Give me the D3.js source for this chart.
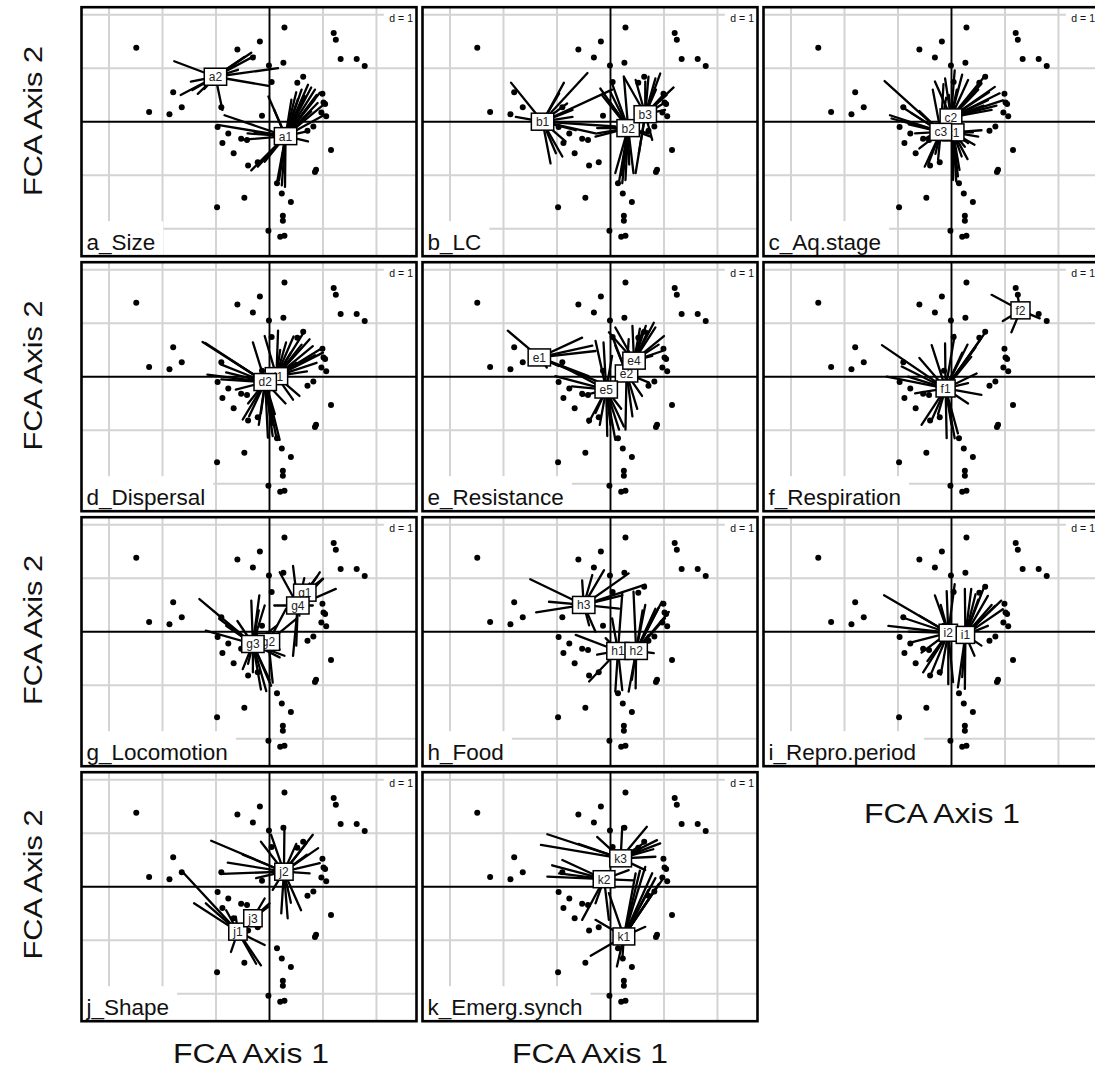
<!DOCTYPE html>
<html><head><meta charset="utf-8">
<script src="https://cdn.jsdelivr.net/npm/d3@7"></script>
<style>
body{margin:0;background:#fff}
svg{display:block;font-family:"Liberation Sans",Arial,Helvetica,sans-serif}
</style>
</head><body><svg id="chart" width="1095" height="1077"></svg>
<script>
// ---------- data ----------
const panelTitles = ["a_Size","b_LC","c_Aq.stage","d_Dispersal","e_Resistance","f_Respiration","g_Locomotion","h_Food","i_Repro.period","j_Shape","k_Emerg.synch"];
const xDomain = [-3.514, 2.748];
const yDomain = [-2.514, 2.140];
const gridX = [-3,-2,-1,1,2];
const gridY = [-2,-1,1,2];
const scaleLegend = "d = 1";
const xAxisTitle = "FCA Axis 1";
const yAxisTitle = "FCA Axis 2";

// species scores (shared by all panels)
const species = [[0.28,1.76],[1.2,1.66],[1.24,1.53],[-2.49,1.38],[-0.18,1.5],[-0.6,1.35],[-0.31,1.2],[0.26,1.1],[-0.01,1.05],[1.33,1.17],[1.63,1.17],[1.78,1.04],[0.04,0.74],[0.52,0.73],[0.63,0.84],[-1.8,0.55],[-2.25,0.18],[-1.87,0.14],[-1.64,0.27],[-0.9,0.27],[-0.14,0.11],[0.99,0.52],[1.04,0.33],[0.97,0.17],[1.06,0.1],[1.01,0.36],[0.82,-0.09],[0.71,-0.17],[-0.97,-0.1],[-0.77,-0.22],[-0.88,-0.4],[-0.53,-0.32],[-0.42,-0.34],[-0.67,-0.59],[1.15,-0.53],[0.87,-0.9],[0.85,-0.94],[-0.4,-0.82],[-0.22,-0.76],[0.14,-1.15],[0.23,-1.34],[0.4,-1.5],[-0.47,-1.42],[-0.98,-1.6],[0.25,-1.76],[0.25,-1.85],[-0.02,-2.04],[0.28,-2.13],[0.2,-2.15]];

// class centroids and star line end points, per trait
const sizeClasses = [
 {label:"a1", c:[0.3,-0.27], ends:[[0.72,0.69],[0.78,0.64],[0.88,0.5],[1.0,0.31],[0.94,0.54],[0.53,0.42],[0.66,0.48],[1.03,0.13],[0.78,0.19],[0.84,0.41],[0.14,-1.14],[0.23,-1.19],[0.29,-1.22],[0.18,-1.09],[-0.34,-0.91],[-0.22,-0.84],[-0.09,-0.75],[-0.97,-0.06],[-0.84,0.12],[-0.53,-0.34],[-0.41,-0.22],[-0.28,-0.19],[-0.02,0.47],[0.09,0.22],[0.72,-0.37],[0.66,-0.19],[0.41,0.41],[0.6,0.6],[0.85,0.6],[0.5,0.55],[0.2,-0.9],[0.9,0.35]]},
 {label:"a2", c:[-1.01,0.84], ends:[[-1.78,1.13],[-0.34,1.29],[-0.28,1.23],[-0.47,1.21],[-0.66,1.06],[0.16,1.0],[-0.02,0.67],[-0.88,0.22],[-1.44,0.59],[-1.66,0.5],[-1.34,0.52],[-1.47,0.75],[-1.22,0.61],[-0.59,0.97]]}
];
const lcClasses = [
 {label:"b1", c:[-1.27,0.0], ends:[[-1.86,0.73],[-1.77,0.09],[-0.87,0.73],[-0.43,0.91],[0.03,0.6],[-1.12,-0.78],[-0.9,-0.65],[-0.84,-0.37],[-0.65,-0.16],[-0.71,0.09],[0.09,-0.09],[-0.28,-0.22],[-0.81,0.34],[-0.71,0.22],[-0.96,0.53],[-1.02,-0.59]]},
 {label:"b2", c:[0.33,-0.12], ends:[[-0.19,0.62],[0.03,0.71],[0.25,0.84],[-0.16,0.5],[0.09,0.22],[0.16,-1.12],[0.22,-1.15],[0.28,-1.09],[0.09,-0.96],[0.43,-0.96],[-0.28,-0.28],[-0.25,-0.12],[-0.25,-0.22],[0.71,-0.22],[0.75,-0.28],[-0.03,0.4],[0.2,-1.0],[0.35,-0.8],[0.0,0.55]]},
 {label:"b3", c:[0.65,0.14], ends:[[0.93,0.9],[1.18,0.64],[0.84,0.81],[0.71,0.84],[0.47,0.78],[0.99,0.34],[1.02,0.22],[0.78,-0.34],[0.47,-0.96],[0.53,-0.59],[0.25,0.84],[0.96,0.47],[0.65,0.75],[0.85,0.6],[1.05,0.5]]}
];
const aqClasses = [
 {label:"c2", c:[-0.01,0.08], ends:[[0.06,0.96],[0.62,0.85],[0.81,0.65],[0.9,0.53],[0.96,0.4],[0.68,0.4],[0.56,0.71],[0.31,0.78],[-0.12,0.81],[-0.31,0.75],[0.75,0.22],[0.43,0.53],[0.2,0.88],[0.84,0.3],[0.5,0.6],[0.7,0.55],[0.35,0.45],[0.1,0.6],[0.6,0.3],[-0.05,0.5]]},
 {label:"c1", c:[0.03,-0.2], ends:[[0.09,-1.12],[0.12,-1.02],[0.03,-1.09],[0.19,-0.65],[0.25,-0.47],[0.56,-0.16],[0.43,-0.43],[0.31,-0.4],[0.06,-0.65],[0.5,-0.28],[0.15,-0.9],[0.08,-0.8],[0.3,-0.7],[0.4,-0.2]]},
 {label:"c3", c:[-0.2,-0.19], ends:[[-1.25,0.76],[-1.15,0.12],[-1.12,0.06],[-0.93,0.28],[-0.93,0.03],[-0.68,-0.22],[-0.56,-0.34],[-0.5,-0.84],[-0.43,-0.78],[-0.25,-0.71],[-0.75,0.16],[-0.43,-0.28],[-0.35,0.6],[-0.15,0.7],[-0.6,0.2],[-0.8,-0.05],[-0.3,-0.6],[-0.6,-0.5],[-0.1,0.45]]}
];
const dispClasses = [
 {label:"d1", c:[0.13,0.01], ends:[[0.16,0.86],[0.66,0.86],[0.81,0.57],[1.0,0.45],[0.88,0.26],[0.5,0.26],[0.56,-0.36],[0.44,-0.43],[0.75,0.7],[0.94,0.51],[-0.09,0.76],[0.31,0.64],[0.45,0.75],[0.6,0.6],[0.85,0.4],[0.2,0.5],[0.7,0.1],[0.4,0.45]]},
 {label:"d2", c:[-0.08,-0.1], ends:[[-1.25,0.65],[-1.2,0.63],[-0.91,0.23],[-1.16,0.04],[-0.31,0.64],[-0.5,-0.8],[-0.38,-0.74],[-0.16,-0.68],[0.06,-1.11],[0.13,-1.14],[0.19,-1.18],[-0.03,-1.14],[-0.63,-0.24],[-0.56,-0.05],[-0.81,0.08],[0.3,-0.5],[-0.7,0.3],[-0.9,-0.05],[-0.2,-0.9],[0.05,-0.9],[-0.4,-0.5],[0.1,-0.7]]}
];
const resClasses = [
 {label:"e2", c:[0.3,0.06], ends:[[0.28,-0.99],[0.41,-0.74],[0.59,-0.36],[0.72,-0.11],[0.03,0.76],[0.34,0.7],[0.09,0.58],[0.5,-0.6]]},
 {label:"e1", c:[-1.33,0.36], ends:[[-1.92,0.86],[-0.53,0.73],[-0.34,0.58],[-0.28,0.48],[-0.97,0.2],[-1.19,0.17],[-0.19,-0.11],[-0.41,0.01]]},
 {label:"e4", c:[0.44,0.3], ends:[[0.81,1.01],[1.0,0.76],[0.97,0.48],[0.84,0.92],[0.66,0.95],[0.09,0.92],[-0.03,0.83],[0.78,0.39],[0.41,0.95],[0.59,0.83],[0.7,0.85],[0.9,0.6],[0.55,0.9]]},
 {label:"e5", c:[-0.08,-0.24], ends:[[-0.91,0.2],[-1.03,0.01],[-0.72,-0.18],[-0.28,0.67],[-0.13,0.64],[-0.41,-0.86],[-0.28,-0.68],[0.09,-1.18],[0.16,-0.99],[-0.06,-1.11],[0.25,-0.93],[-0.53,-0.36],[0.03,0.39],[0.0,-0.9],[-0.2,-0.9],[0.2,-0.6]]}
];
const respClasses = [
 {label:"f1", c:[-0.11,-0.22], ends:[[-1.3,0.59],[-1.21,0.0],[-0.93,0.19],[-0.37,0.59],[-0.12,0.62],[0.06,0.78],[0.53,0.68],[0.62,0.81],[0.47,0.06],[0.31,-0.12],[0.56,-0.34],[0.31,-0.5],[-0.56,-0.9],[-0.37,-0.81],[-0.09,-1.15],[0.06,-1.15],[0.12,-1.06],[0.37,0.37],[-0.81,0.0],[-0.68,-0.31],[0.3,0.6],[0.45,0.55],[-0.6,0.35],[0.0,-0.9],[-0.25,-0.7],[0.2,0.45]]},
 {label:"f2", c:[1.29,1.24], ends:[[0.75,1.53],[0.96,1.04],[1.12,0.83],[1.65,1.09],[1.24,1.49]]}
];
const locoClasses = [
 {label:"g1", c:[0.66,0.73], ends:[[0.88,1.02],[1.0,0.99]]},
 {label:"g2", c:[-0.02,-0.19], ends:[[0.31,0.43],[0.5,0.24],[0.19,-0.33],[0.06,-0.95]]},
 {label:"g3", c:[-0.31,-0.23], ends:[[-1.31,0.61],[-1.19,0.02],[-0.94,0.24],[-0.34,0.58],[-0.19,0.68],[-0.09,0.49],[-0.31,-0.76],[-0.16,-1.08],[-0.06,-1.11],[0.03,-1.01],[0.19,-0.48],[0.28,-0.45],[0.13,0.11],[-0.81,0.11],[-0.5,-0.7],[-0.2,0.4],[-0.6,0.2],[0.0,-0.9],[-0.4,-0.6]]},
 {label:"g4", c:[0.53,0.49], ends:[[0.44,1.23],[0.19,1.11],[0.94,1.11],[1.0,0.99],[1.24,0.8],[0.09,0.49],[0.44,-0.45],[0.5,-0.26],[0.56,0.3],[0.81,0.49],[0.75,0.9],[0.65,1.0]]}
];
const foodClasses = [
 {label:"h3", c:[-0.5,0.5], ends:[[-1.5,0.98],[-1.39,0.36],[-1.15,0.56],[-0.53,0.96],[-0.12,1.15],[0.34,1.09],[0.65,0.88],[0.22,0.68],[-0.4,0.12],[-0.28,0.0],[0.16,0.43],[-0.34,1.06]]},
 {label:"h1", c:[0.14,-0.36], ends:[[-0.65,-0.06],[-0.4,-0.93],[-0.25,-0.43],[0.09,-1.12],[0.22,-1.09],[0.03,0.25],[0.22,0.71],[-0.09,-0.12]]},
 {label:"h2", c:[0.48,-0.36], ends:[[1.09,0.37],[0.96,0.56],[0.84,0.43],[0.65,0.5],[0.71,-0.06],[0.81,-0.4],[0.34,-1.12],[0.43,0.75],[0.47,-1.06],[1.02,0.25],[0.9,0.45],[0.8,0.3],[0.6,0.4],[0.4,-0.9]]}
];
const reproClasses = [
 {label:"i2", c:[-0.06,-0.02], ends:[[-1.26,0.68],[-1.18,0.11],[-0.93,0.27],[-0.31,0.68],[-0.09,0.76],[0.06,0.89],[-0.53,-0.76],[-0.37,-0.76],[-0.06,-0.98],[0.03,-0.94],[-0.75,-0.2],[-0.56,-0.39],[-0.6,0.3],[-0.2,0.5],[-0.8,0.0],[-0.2,-0.8],[-0.45,-0.55]]},
 {label:"i1", c:[0.26,-0.06], ends:[[0.62,0.86],[0.93,0.58],[0.96,0.42],[0.68,0.67],[0.37,0.8],[0.25,0.8],[0.56,-0.26],[0.43,-0.45],[0.25,-1.07],[0.12,-1.04],[0.68,0.11],[0.81,0.48],[0.5,0.6],[0.75,0.5],[0.2,-0.85],[0.6,0.3],[0.45,0.7]]}
];
const shapeClasses = [
 {label:"j2", c:[0.27,0.28], ends:[[-1.09,0.86],[-0.78,0.45],[-0.88,0.24],[-0.16,0.84],[0.03,0.97],[0.28,1.13],[0.81,0.97],[0.91,0.72],[0.75,0.25],[0.94,0.44],[0.59,-0.44],[0.34,-0.59],[0.22,-0.5],[-0.25,0.16],[0.06,-0.06],[0.69,0.81],[0.7,0.6],[0.5,0.8],[-0.5,0.6],[0.4,-0.3]]},
 {label:"j1", c:[-0.59,-0.84], ends:[[-1.61,0.26],[-1.41,-0.31],[-1.19,-0.31],[-0.81,-0.44],[-0.72,-1.22],[-0.16,-1.47],[-0.25,-1.44],[-0.09,-1.09],[-0.63,-0.56]]},
 {label:"j3", c:[-0.31,-0.59], ends:[[0.0,-0.31],[-0.09,-0.22],[-0.03,-0.38]]}
];
const emergClasses = [
 {label:"k3", c:[0.19,0.53], ends:[[-1.18,0.98],[-1.3,0.78],[-0.25,0.93],[0.22,1.12],[0.68,1.12],[0.87,0.87],[0.93,0.81],[0.84,0.56],[0.65,0.31],[0.8,0.7],[0.6,0.8],[-0.6,0.8]]},
 {label:"k2", c:[-0.12,0.14], ends:[[-1.09,0.4],[-1.18,0.19],[-0.96,0.25],[-0.53,-0.62],[-0.28,-0.31],[-0.03,-0.62],[0.34,0.31],[0.43,0.12],[-0.9,0.5]]},
 {label:"k1", c:[0.25,-0.93], ends:[[0.96,0.12],[0.65,0.37],[0.71,-0.06],[0.84,0.16],[-0.37,-1.29],[0.12,-1.49],[0.22,-1.37],[0.65,-0.75],[-0.28,-0.62],[-0.03,-0.12],[0.78,0.25],[0.47,0.25],[0.9,0.05],[0.55,0.3],[0.8,-0.1]]}
];
const panelClasses = [sizeClasses, lcClasses, aqClasses, dispClasses, resClasses, respClasses, locoClasses, foodClasses, reproClasses, shapeClasses, emergClasses];

// ---------- drawing ----------
const svg = d3.select("#chart");
svg.append("rect").attr("width",1095).attr("height",1077).attr("fill","#fff");

const PW = 335, PH = 249;
const x = d3.scaleLinear().domain(xDomain).range([0, PW]);
const y = d3.scaleLinear().domain(yDomain).range([PH, 0]);

panelTitles.forEach((title, i) => {
  const col = i % 3, row = Math.floor(i / 3);
  const g = svg.append("g").attr("transform", `translate(${81.5 + 341*col},${7.2 + 255*row})`);
  g.append("rect").attr("width", PW).attr("height", PH).attr("fill", "#fff");
  // grid
  g.selectAll(".gx").data(gridX).enter().append("line")
    .attr("x1", d => x(d)).attr("x2", d => x(d)).attr("y1", 0).attr("y2", PH)
    .attr("stroke", "#d3d3d3").attr("stroke-width", 2);
  g.selectAll(".gy").data(gridY).enter().append("line")
    .attr("y1", d => y(d)).attr("y2", d => y(d)).attr("x1", 0).attr("x2", PW)
    .attr("stroke", "#d3d3d3").attr("stroke-width", 2);
  // axes through origin
  g.append("line").attr("x1", x(0)).attr("x2", x(0)).attr("y1", 0).attr("y2", PH).attr("stroke", "#000").attr("stroke-width", 1.9);
  g.append("line").attr("y1", y(0)).attr("y2", y(0)).attr("x1", 0).attr("x2", PW).attr("stroke", "#000").attr("stroke-width", 1.9);
  // points
  g.selectAll(".pt").data(species).enter().append("circle")
    .attr("cx", d => x(d[0])).attr("cy", d => y(d[1])).attr("r", 3).attr("fill", "#000");
  const classes = panelClasses[i];
  // stars
  classes.forEach(cl => {
    g.selectAll(null).data(cl.ends).enter().append("line")
      .attr("x1", x(cl.c[0])).attr("y1", y(cl.c[1]))
      .attr("x2", d => x(d[0])).attr("y2", d => y(d[1]))
      .attr("stroke", "#000").attr("stroke-width", 2.3).attr("stroke-linecap", "round");
  });
  // labels
  classes.forEach(cl => {
    const lg = g.append("g").attr("transform", `translate(${x(cl.c[0])},${y(cl.c[1])})`);
    const r = lg.append("rect").attr("fill", "#fff").attr("stroke", "#000").attr("stroke-width", 1.5);
    const t = lg.append("text").attr("text-anchor", "middle").attr("y", 4.4)
      .attr("font-size", 12).attr("fill", "#222").text(cl.label);
    const w = t.node().getComputedTextLength() + 9;
    r.attr("x", -w/2).attr("y", -8.5).attr("width", w).attr("height", 17);
  });
  // d = 1 legend
  const dl = g.append("g");
  const dr = dl.append("rect").attr("fill", "#fff");
  const dt = dl.append("text").attr("x", PW - 3.5).attr("y", 15).attr("text-anchor", "end")
    .attr("font-size", 10.5).attr("fill", "#111").text(scaleLegend);
  const dw = dt.node().getComputedTextLength();
  dr.attr("x", PW - dw - 9).attr("y", 0).attr("width", dw + 9).attr("height", 19);
  // subtitle box
  const sg = g.append("g");
  const sr = sg.append("rect").attr("fill", "#fff");
  const st = sg.append("text").attr("x", 5).attr("y", PH - 6.5).attr("font-size", 22.5).attr("fill", "#111").text(title);
  const sw = st.node().getComputedTextLength();
  sr.attr("x", 0).attr("y", PH - 35).attr("width", sw + 13).attr("height", 35);
  // border
  g.append("rect").attr("width", PW).attr("height", PH).attr("fill", "none").attr("stroke", "#000").attr("stroke-width", 2.6);
});

// axis titles
[0,1,2,3].forEach(r => {
  svg.append("text").attr("transform", `translate(42,${121 + 254.5*r}) rotate(-90)`)
    .attr("text-anchor", "middle").attr("font-size", 25).attr("fill", "#111")
    .attr("textLength", 150).attr("lengthAdjust", "spacingAndGlyphs").text(yAxisTitle);
});
[[251,1063],[590,1063],[942,823]].forEach(p => {
  svg.append("text").attr("x", p[0]).attr("y", p[1]).attr("text-anchor", "middle")
    .attr("font-size", 27).attr("fill", "#111")
    .attr("textLength", 156).attr("lengthAdjust", "spacingAndGlyphs").text(xAxisTitle);
});
</script>
</body></html>
